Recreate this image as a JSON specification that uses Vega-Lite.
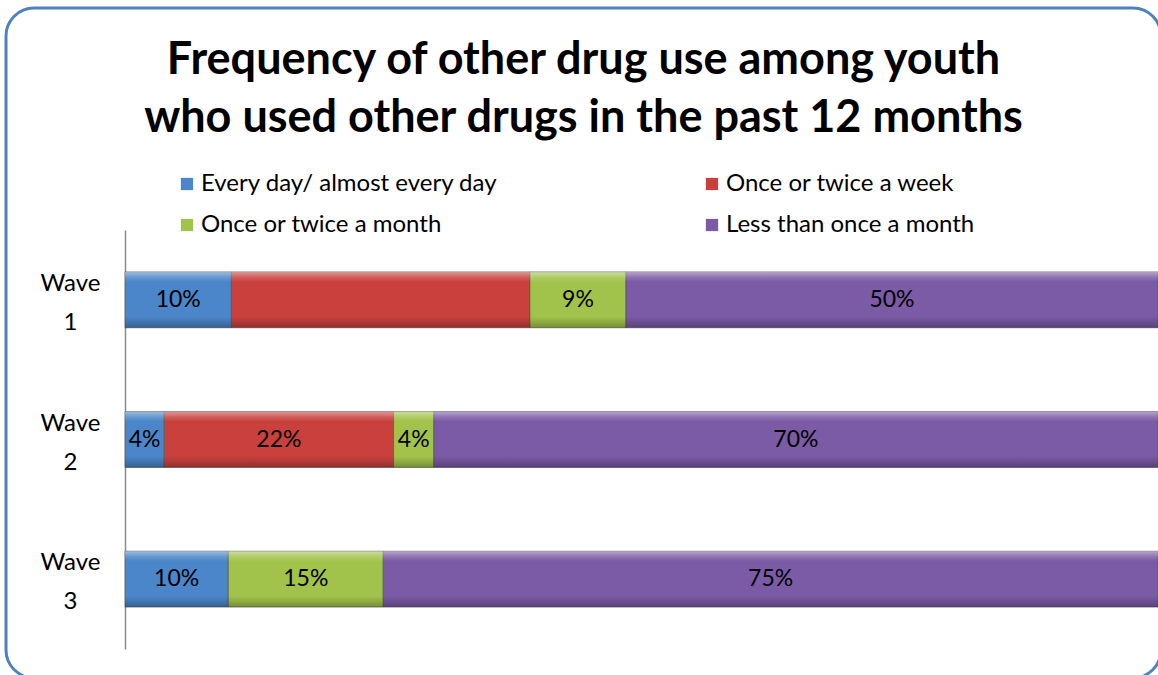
{
  "$schema": "https://vega.github.io/schema/vega-lite/v6.json",
  "width": 1155,
  "height": 670,
  "autosize": {"type": "none"},
  "padding": {"left": 6, "top": 8, "right": 0, "bottom": 0},
  "background": "white",
  "title": {
    "text": ["Frequency of other drug use among youth", "who used other drugs in the past 12 months"],
    "font": "Lato",
    "fontSize": 45,
    "fontWeight": "bold",
    "color": "black",
    "anchor": "middle",
    "frame": "group",
    "baseline": "alphabetic",
    "lineHeight": 58,
    "offset": -169
  },
  "data": {
    "values": [
      {"wave": "Wave 1", "cat": "Every day/ almost every day", "k": 1, "value": 10.3, "label": "10%"},
      {"wave": "Wave 1", "cat": "Once or twice a week", "k": 2, "value": 28.9, "label": ""},
      {"wave": "Wave 1", "cat": "Once or twice a month", "k": 3, "value": 9.3, "label": "9%"},
      {"wave": "Wave 1", "cat": "Less than once a month", "k": 4, "value": 51.5, "label": "50%"},
      {"wave": "Wave 2", "cat": "Every day/ almost every day", "k": 1, "value": 3.8, "label": "4%"},
      {"wave": "Wave 2", "cat": "Once or twice a week", "k": 2, "value": 22.2, "label": "22%"},
      {"wave": "Wave 2", "cat": "Once or twice a month", "k": 3, "value": 3.9, "label": "4%"},
      {"wave": "Wave 2", "cat": "Less than once a month", "k": 4, "value": 70.1, "label": "70%"},
      {"wave": "Wave 3", "cat": "Every day/ almost every day", "k": 1, "value": 10.0, "label": "10%"},
      {"wave": "Wave 3", "cat": "Once or twice a month", "k": 3, "value": 15.0, "label": "15%"},
      {"wave": "Wave 3", "cat": "Less than once a month", "k": 4, "value": 75.0, "label": "75%"}
    ]
  },
  "transform": [
    {"stack": "value", "groupby": ["wave"], "sort": [{"field": "k", "order": "ascending"}], "as": ["x0", "x1"]}
  ],
  "encoding": {
    "y": {
      "field": "wave",
      "type": "nominal",
      "scale": {"domain": ["Wave 1", "Wave 2", "Wave 3"], "range": [222, 641], "paddingInner": 0.6, "paddingOuter": 0.3},
      "axis": {
        "title": null,
        "offset": -119,
        "ticks": false,
        "domainColor": "#8c8c8c",
        "domainWidth": 1.5,
        "labelFont": "Lato",
        "labelFontSize": 24,
        "labelColor": "black",
        "labelAlign": "center",
        "labelBaseline": "middle",
        "labelPadding": 55,
        "labelLineHeight": 39,
        "labelOffset": -16,
        "labelExpr": "split(datum.label, ' ')"
      }
    }
  },
  "layer": [
    {
      "mark": {"type": "bar", "stroke": "#4d4d4d", "strokeWidth": 1, "strokeOpacity": 0.6},
      "encoding": {
        "x": {"field": "x0", "type": "quantitative", "scale": {"domain": [-11.52, 100.29], "nice": false, "zero": false}, "axis": null},
        "x2": {"field": "x1"},
        "color": {
          "field": "cat",
          "type": "nominal",
          "scale": {
            "domain": ["Every day/ almost every day", "Once or twice a month", "Once or twice a week", "Less than once a month"],
            "range": ["#4a86c9", "#a2c34b", "#c9403c", "#7b5aa6"]
          },
          "legend": {
            "title": null,
            "orient": "none",
            "legendX": 169,
            "legendY": 164,
            "columns": 2,
            "columnPadding": 202,
            "rowPadding": 17,
            "symbolType": "square",
            "symbolSize": 150,
            "symbolStrokeWidth": 0,
            "labelFont": "Lato",
            "labelFontSize": 24,
            "labelColor": "black",
            "labelOffset": 2,
            "labelLimit": 400
          }
        }
      }
    },
    {
      "mark": {
        "type": "bar",
        "fill": {
          "gradient": "linear", "x1": 0, "y1": 0, "x2": 0, "y2": 1,
          "stops": [
            {"offset": 0, "color": "rgba(255,255,255,0.45)"},
            {"offset": 0.1, "color": "rgba(255,255,255,0.15)"},
            {"offset": 0.18, "color": "rgba(255,255,255,0)"},
            {"offset": 0.8, "color": "rgba(0,0,0,0)"},
            {"offset": 0.88, "color": "rgba(0,0,0,0.1)"},
            {"offset": 1, "color": "rgba(0,0,0,0.28)"}
          ]
        }
      },
      "encoding": {
        "x": {"field": "x0", "type": "quantitative"},
        "x2": {"field": "x1"}
      }
    },
    {
      "transform": [{"calculate": "(datum.x0 + datum.x1) / 2", "as": "xmid"}],
      "mark": {"type": "text", "font": "Lato", "fontSize": 23, "color": "black", "baseline": "middle", "align": "center"},
      "encoding": {
        "x": {"field": "xmid", "type": "quantitative"},
        "text": {"field": "label"}
      }
    }
  ],
  "config": {
    "view": {"stroke": "#4F81BD", "strokeWidth": 3, "cornerRadius": 28}
  }
}
